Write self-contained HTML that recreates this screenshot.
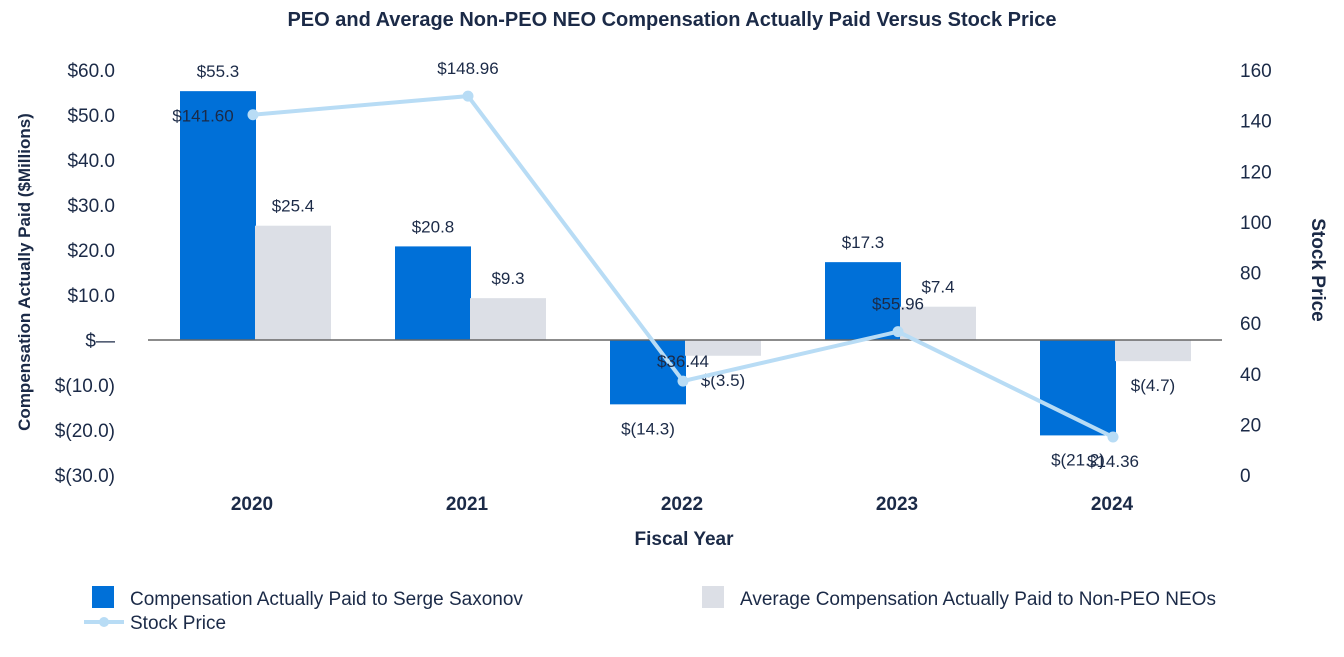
<!DOCTYPE html>
<html><head><meta charset="utf-8"><style>
body{margin:0;background:#fff;}
svg text{font-family:"Liberation Sans",sans-serif;fill:#1b2a47;}
</style></head><body>
<svg id="c" width="1344" height="652" xmlns="http://www.w3.org/2000/svg">
<text x="672" y="26" text-anchor="middle" font-size="20" font-weight="bold">PEO and Average Non-PEO NEO Compensation Actually Paid Versus Stock Price</text>
<g id="leftTicks"></g><g id="rightTicks"></g><g id="bars"></g>
<line x1="148" x2="1222" y1="340" y2="340" stroke="#666" stroke-width="1.5"/>
<g id="line"></g><g id="xlab"></g>
<text transform="translate(30,272) rotate(-90)" text-anchor="middle" font-size="17" font-weight="bold">Compensation Actually Paid ($Millions)</text>
<text transform="translate(1312,270) rotate(90)" text-anchor="middle" font-size="19" font-weight="bold">Stock Price</text>
<text x="684" y="545" text-anchor="middle" font-size="19" font-weight="bold">Fiscal Year</text>
<g>
<rect x="92" y="586" width="22" height="22" fill="#0070d8"/>
<text x="130" y="605" font-size="19">Compensation Actually Paid to Serge Saxonov</text>
<rect x="702" y="586" width="22" height="22" fill="#dcdfe6"/>
<text x="740" y="605" font-size="19">Average Compensation Actually Paid to Non-PEO NEOs</text>
<line x1="84" x2="124" y1="622" y2="622" stroke="#b8dcf5" stroke-width="4"/>
<circle cx="104" cy="622" r="5" fill="#b8dcf5"/>
<text x="130" y="629" font-size="19">Stock Price</text>
</g>
</svg>
<script>
const years=["2020","2021","2022","2023","2024"];
const peo=[55.3,20.8,-14.3,17.3,-21.2];
const neo=[25.4,9.3,-3.5,7.4,-4.7];
const stock=[141.60,148.96,36.44,55.96,14.36];
const leftTicks=[60,50,40,30,20,10,0,-10,-20,-30];
const rightTicks=[160,140,120,100,80,60,40,20,0];
const NS="http://www.w3.org/2000/svg";
const yL=v=>340-v*4.5;
const yR=v=>473.4-v*2.533;
const yRt=v=>475-v*(405/160);
const xC=i=>255+i*215;
function mk(tag,attrs,parent,txt){const e=document.createElementNS(NS,tag);for(const k in attrs)e.setAttribute(k,attrs[k]);if(txt!==undefined)e.textContent=txt;document.getElementById(parent).appendChild(e);return e;}
const fmtL=v=>v===0?"$\u2014":(v<0?"$("+Math.abs(v).toFixed(1)+")":"$"+v.toFixed(1));
leftTicks.forEach(v=>{const t=mk('text',{x:115,y:yL(v)+7,'text-anchor':'end','font-size':19},'leftTicks',fmtL(v));

});
rightTicks.forEach(v=>{const t=mk('text',{x:1240,y:yRt(v)+7,'font-size':19},'rightTicks',String(v));

});
years.forEach((y,i)=>{
 const c=xC(i);
 [[peo[i],c-75,'#0070d8','bar-peo-'],[neo[i],c,'#dcdfe6','bar-neo-']].forEach(([v,x,col,nm])=>{
  const r=mk('rect',{x:x,y:Math.min(yL(v),340),width:76,height:Math.abs(v)*4.5,fill:col},'bars');
  
  
  const ly=v>=0?yL(v)-14:yL(v)+30;
  const t=mk('text',{x:x+38,y:ly,'text-anchor':'middle','font-size':17},'bars',fmtL(v));
  
  
 });
 const xl=mk('text',{x:c-3,y:510,'text-anchor':'middle','font-size':19,'font-weight':'bold'},'xlab',y);
 
 
});
const pts=stock.map((v,i)=>[xC(i)-2,yR(v)]);
const pl=mk('polyline',{points:pts.map(p=>p.join(',')).join(' '),fill:'none',stroke:'#b8dcf5','stroke-width':4},'line');


const offs=[[-50,7],[0,-22],[0,-14],[0,-22],[0,30]];
stock.forEach((v,i)=>{
 const c=mk('circle',{cx:pts[i][0],cy:pts[i][1],r:5.5,fill:'#b8dcf5'},'line');
 
 
 const t=mk('text',{x:pts[i][0]+offs[i][0],y:pts[i][1]+offs[i][1],'text-anchor':'middle','font-size':17},'line','$'+v.toFixed(2));
 
 
});
</script>
</body></html>
